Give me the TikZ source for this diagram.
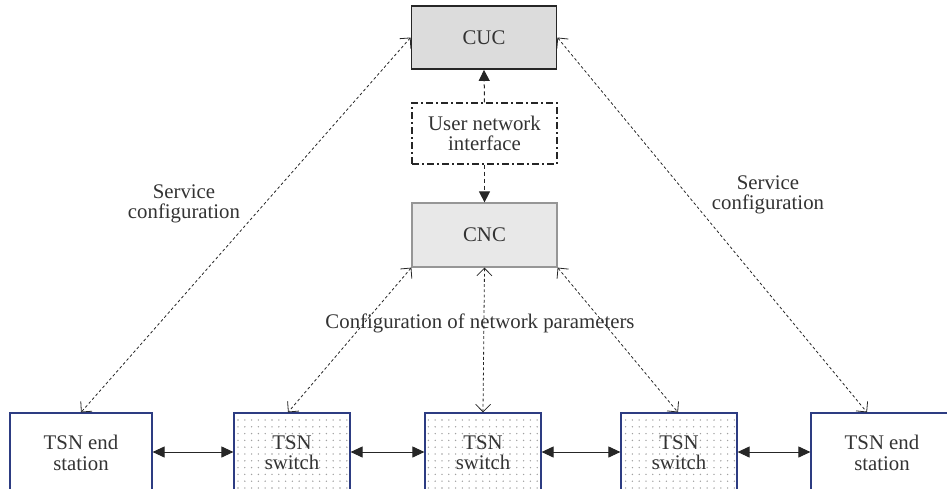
\documentclass[tikz,border=0pt]{standalone}
\usepackage{fontspec}
\setmainfont{Liberation Serif}[UprightFont=*, BoldFont=* Bold]
\usetikzlibrary{arrows.meta,patterns.meta,calc}
\definecolor{cucfill}{RGB}{220,220,220}
\definecolor{cncfill}{RGB}{232,232,232}
\definecolor{cncline}{RGB}{150,150,150}
\definecolor{tsnline}{RGB}{45,60,130}
\definecolor{dotgray}{RGB}{160,160,160}
\newfontfamily\figfont{Liberation Serif}
\tikzset{
  box/.style={draw, inner sep=0pt, align=center,
    font=\figfont\fontsize{10.4}{10.2}\selectfont, text=black!80},
  cucbox/.style={box, fill=cucfill, draw=black!85, line width=0.9pt,
    minimum width=72.5pt, minimum height=31.5pt},
  unibox/.style={box, draw=black!85, line width=0.55pt,
    dash pattern=on 3.5pt off 1.6pt on 0.8pt off 1.6pt,
    minimum width=72.5pt, minimum height=30.5pt},
  cncbox/.style={box, fill=cncfill, draw=cncline, line width=0.6pt,
    minimum width=72.5pt, minimum height=32pt},
  endbox/.style={box, draw=tsnline, line width=0.6pt,
    minimum width=71pt, minimum height=40pt},
  swbox/.style={box, draw=tsnline, line width=0.6pt,
    pattern={Dots[distance=3.4pt, radius=0.38pt]}, pattern color=dotgray,
    minimum width=58pt, minimum height=40pt},
  cfglink/.style={draw=black!85, line width=0.4pt,
    dash pattern=on 1.4pt off 1.2pt,
    {Straight Barb[length=3.8pt,width=7.5pt]}-{Straight Barb[length=3.8pt,width=7.5pt]}},
  unilink/.style={draw=black!85, line width=0.5pt,
    dash pattern=on 2pt off 1.5pt, -{Triangle[length=5.5pt,width=5.5pt]}},
  datalink/.style={draw=black!85, line width=0.5pt,
    {Triangle[length=6pt,width=5.5pt]}-{Triangle[length=6pt,width=5.5pt]}},
  lbl/.style={align=center, font=\figfont\fontsize{10.4}{10.2}\selectfont, text=black!80}
}
\begin{document}
\begin{tikzpicture}[x=0.5pt, y=-0.5pt]
  \useasboundingbox (0,0) rectangle (947,488);
  \clip (0,0) rectangle (947,488);

  % controllers
  \node[cucbox] (cuc) at (484,37.5) {CUC};
  \node[unibox] (uni) at (484.5,133.5) {User network\\interface};
  \node[cncbox] (cnc) at (484.5,235) {CNC};

  % bridged network
  \node[endbox] (lend) at (81,453) {TSN end\\station};
  \node[swbox]  (sw1)  at (292,453) {TSN\\switch};
  \node[swbox]  (sw2)  at (483,453) {TSN\\switch};
  \node[swbox]  (sw3)  at (679,453) {TSN\\switch};
  \node[endbox] (rend) at (882,453) {TSN end\\station};

  % user network interface
  \draw[unilink] (uni.north) -- (cuc.south);
  \draw[unilink] (uni.south) -- (cnc.north);

  % service configuration
  \draw[cfglink] (cuc.west) -- (lend.north);
  \draw[cfglink] (cuc.east) -- ([xshift=-7.5pt]rend.north);

  % network parameters
  \draw[cfglink] (cnc.south west) -- ([xshift=-2pt]sw1.north);
  \draw[cfglink] (cnc.south) -- (sw2.north);
  \draw[cfglink] (cnc.south east) -- ([xshift=-0.5pt]sw3.north);

  % data links
  \draw[datalink] ([yshift=0.5pt]lend.east) -- ([yshift=0.5pt]sw1.west);
  \draw[datalink] ([yshift=0.5pt]sw1.east) -- ([yshift=0.5pt]sw2.west);
  \draw[datalink] ([yshift=0.5pt]sw2.east) -- ([yshift=0.5pt]sw3.west);
  \draw[datalink] ([yshift=0.5pt]sw3.east) -- ([yshift=0.5pt]rend.west);

  % labels
  \node[lbl] (svcl) at (184,204) {Service\\configuration};
  \node[lbl] (svcr) at (768,195) {Service\\configuration};
  \node[lbl] (netp) at (480,323) {Configuration of network parameters};
\end{tikzpicture}
\end{document}
